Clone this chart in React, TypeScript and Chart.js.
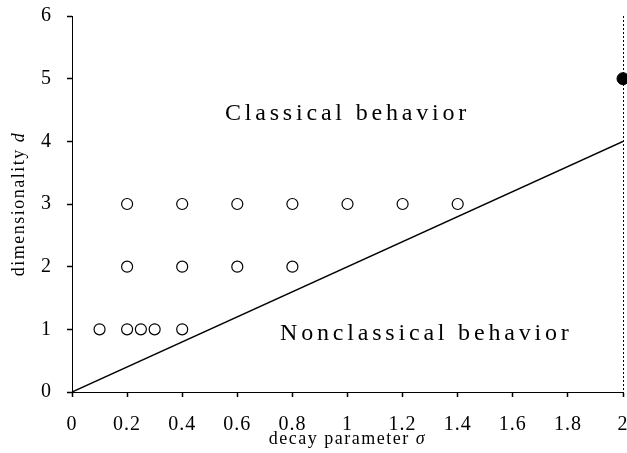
import React, { useEffect, useRef } from "react";
import { Chart, registerables } from "chart.js";

Chart.register(...registerables);

const openX = [0.1, 0.2, 0.25, 0.3, 0.4, 0.2, 0.4, 0.6, 0.8, 0.2, 0.4, 0.6, 0.8, 1.0, 1.2, 1.4];
const openY = [1, 1, 1, 1, 1, 2, 2, 2, 2, 3, 3, 3, 3, 3, 3, 3];
const filledX = [2];
const filledY = [5];
const boundaryX = [0, 2];
const boundaryY = [0, 4];
const regionLabels = ["Classical behavior", "Nonclassical behavior"];
const regionLabelX = [1.0, 1.286];
const regionLabelY = [4.34, 0.83];
const xTicks = [0, 0.2, 0.4, 0.6, 0.8, 1, 1.2, 1.4, 1.6, 1.8, 2];
const yTicks = [0, 1, 2, 3, 4, 5, 6];
const xTitle = ["decay parameter ", "σ"];
const yTitle = ["dimensionality ", "d"];

const FONT = "'Liberation Serif', 'Times New Roman', serif";

const spacingPlugin = {
  id: "spacing",
  beforeDraw(chart: any) {
    (chart.ctx as any).letterSpacing = "1px";
  },
};

function drawMixed(ctx: any, parts: string[], size: number, spacing: string) {
  ctx.letterSpacing = spacing;
  ctx.font = `${size}px ${FONT}`;
  const w0 = ctx.measureText(parts[0]).width;
  ctx.font = `italic ${size}px ${FONT}`;
  const w1 = ctx.measureText(parts[1]).width;
  const total = w0 + w1;
  ctx.textAlign = "left";
  ctx.font = `${size}px ${FONT}`;
  ctx.fillText(parts[0], -total / 2, 0);
  ctx.font = `italic ${size}px ${FONT}`;
  ctx.fillText(parts[1], -total / 2 + w0, 0);
}

const labelPlugin = {
  id: "regionLabels",
  afterDatasetsDraw(chart: any) {
    const { ctx, scales, chartArea } = chart;
    ctx.save();
    (ctx as any).letterSpacing = "3.8px";
    ctx.font = `24px ${FONT}`;
    ctx.fillStyle = "#000";
    ctx.textAlign = "center";
    ctx.textBaseline = "alphabetic";
    regionLabels.forEach((t, i) => {
      ctx.fillText(t, scales.x.getPixelForValue(regionLabelX[i]), scales.y.getPixelForValue(regionLabelY[i]));
    });
    ctx.restore();

    // axis titles
    ctx.save();
    ctx.fillStyle = "#000";
    ctx.textBaseline = "alphabetic";
    ctx.translate((chartArea.left + chartArea.right) / 2, 444);
    drawMixed(ctx, xTitle, 18, "1.5px");
    ctx.restore();

    ctx.save();
    ctx.fillStyle = "#000";
    ctx.textBaseline = "alphabetic";
    ctx.translate(24, (chartArea.top + chartArea.bottom) / 2);
    ctx.rotate(-Math.PI / 2);
    drawMixed(ctx, yTitle, 18, "1.5px");
    ctx.restore();
    (ctx as any).letterSpacing = "1px";
  },
};

export default function App() {
  const ref = useRef<HTMLCanvasElement>(null);
  useEffect(() => {
    if (!ref.current) return;
    const chart = new Chart(ref.current, {
      type: "scatter",
      data: {
        datasets: [
          {
            type: "line",
            data: boundaryX.map((x, i) => ({ x, y: boundaryY[i] })),
            borderColor: "#000",
            borderWidth: 1.5,
            pointRadius: 0,
            fill: false,
          } as any,
          {
            data: openX.map((x, i) => ({ x, y: openY[i] })),
            pointRadius: 5.5,
            pointBackgroundColor: "#fff",
            pointBorderColor: "#000",
            pointBorderWidth: 1.2,
          },
          {
            data: filledX.map((x, i) => ({ x, y: filledY[i] })),
            pointRadius: 6,
            pointBackgroundColor: "#000",
            pointBorderColor: "#000",
            clip: false,
          } as any,
        ],
      },
      options: {
        animation: false,
        responsive: true,
        maintainAspectRatio: false,
        layout: { autoPadding: false, padding: { top: 16, right: 4, left: 0, bottom: 0 } },
        plugins: { legend: { display: false }, tooltip: { enabled: false } },
        scales: {
          x: {
            type: "linear",
            min: 0,
            max: 2,
            afterFit: (s: any) => {
              s.height = 61;
              s.paddingLeft = 0;
              s.paddingRight = 0;
            },
            afterBuildTicks: (s: any) => { s.ticks = xTicks.map((v) => ({ value: v })); },
            ticks: {
              color: "#000",
              padding: 16,
              font: { family: FONT, size: 20 },
              callback: (v: any) => String(v),
              maxRotation: 0,
            },
            grid: {
              color: (c: any) => (c.tick && c.tick.value === 2 ? "#000" : "rgba(0,0,0,0)"),
              borderDash: [2, 2],
              tickColor: "#000",
              tickLength: 5,
              lineWidth: 1,
              tickWidth: 1.5,
            } as any,
            border: { color: "#000", dash: [2, 2], width: 1 },
            title: { display: false },
          },
          y: {
            type: "linear",
            min: 0,
            max: 6,
            afterFit: (s: any) => {
              s.width = 72;
              s.paddingTop = 0;
              s.paddingBottom = 0;
            },
            afterBuildTicks: (s: any) => { s.ticks = yTicks.map((v) => ({ value: v })); },
            ticks: {
              color: "#000",
              padding: 15,
              font: { family: FONT, size: 20 },
            },
            grid: {
              color: "rgba(0,0,0,0)",
              tickColor: "#000",
              tickLength: 5,
              tickWidth: 1.5,
            } as any,
            border: { color: "#000", dash: [2, 2], width: 1 },
            title: { display: false },
          },
        },
      },
      plugins: [spacingPlugin, labelPlugin],
    } as any);
    return () => chart.destroy();
  }, []);
  return (
    <div style={{ position: "fixed", left: 0, top: 0, width: 627, height: 453, background: "#fff" }}>
      <canvas ref={ref} />
    </div>
  );
}
